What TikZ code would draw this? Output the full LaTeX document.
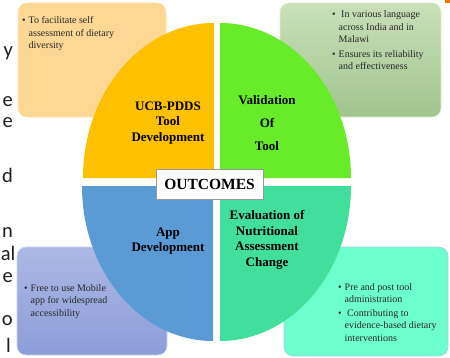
\documentclass[tikz,border=0pt]{standalone}
\usepackage{fontspec}
\setmainfont{Liberation Serif}
\newfontfamily\slidefont{Carlito}
\usepackage{tikz}
\definecolor{ucbyellow}{RGB}{255,192,0}
\definecolor{valgreen}{RGB}{104,236,42}
\definecolor{appblue}{RGB}{91,155,213}
\definecolor{evalteal}{RGB}{66,222,156}
\definecolor{ucbnote}{RGB}{253,216,148}
\definecolor{valnotetop}{RGB}{202,224,184}
\definecolor{valnotebot}{RGB}{160,197,142}
\definecolor{appnotetop}{RGB}{172,184,228}
\definecolor{appnotebot}{RGB}{140,158,217}
\definecolor{evalnote}{RGB}{110,255,206}
\definecolor{slidegray}{RGB}{30,30,30}
\newcommand{\notelist}[1]{\begin{tabular}[t]{@{}l@{\hspace{3pt}}l@{}}#1\end{tabular}}

\begin{document}
\begin{tikzpicture}[x=1pt,y=1pt,
notebox/.style={rounded corners=9pt, line width=0.6pt},
note/.style={anchor=base west, inner sep=0pt, text=black!85, font=\fontsize{10}{12.5}\selectfont},
phase/.style={align=center, inner sep=0pt, font=\bfseries\fontsize{13}{15.5}\selectfont},
slidetext/.style={anchor=base east, inner sep=0pt, text=slidegray, font=\slidefont\fontsize{20.5}{22}\selectfont}]
\useasboundingbox (0,0) rectangle (450,357);
\clip (0,0) rectangle (450,357);

%text boxes behind the quarters
\draw[notebox, fill=ucbnote, draw=ucbnote!70!white] (18,240) rectangle (166,354);
\draw[notebox, top color=valnotetop, bottom color=valnotebot, draw=valnotetop!60!white] (280,240) rectangle (441,354);
\draw[notebox, top color=appnotetop, bottom color=appnotebot, draw=appnotetop!60!white] (17,2) rectangle (167,110);
\draw[notebox, fill=evalnote, draw=appblue!50!white] (284,1) rectangle (448,110);

%the four quarters of the oval
\foreach \cx/\cy/\sa/\ea/\col in {214/179/90/180/ucbyellow, 220/179/0/90/valgreen,
	213/171/180/270/appblue, 220/171/270/360/evalteal}{
	\fill[\col] (\cx,\cy) -- ++(\sa:131 and 155) arc[start angle=\sa, end angle=\ea, x radius=131, y radius=155] -- cycle;
}

%labels of the quarters
\node[phase] (ucb) at (168,234) {UCB-PDDS\\Tool\\Development};
\node[phase, font=\bfseries\fontsize{13}{23}\selectfont] (val) at (267,234) {Validation\\Of\\Tool};
\node[phase] (app) at (168,116) {App\\Development};
\node[phase] (eval) at (267,117) {Evaluation of\\Nutritional\\Assessment\\Change};

\node[draw=black!40, line width=0.8pt, fill=white, minimum width=107pt, minimum height=30pt,
	font=\bfseries\fontsize{15.5}{18}\selectfont] (outcomes) at (209.5,173) {OUTCOMES};

%bullet points
\node[note] (ucbnote) at (22,333) {\notelist{\textbullet & To facilitate self\\ & assessment of dietary\\ & diversity}};
\node[note] (valnote) at (332,339) {\notelist{\textbullet & \hspace{2.5pt}In various language\\ & across India and in\\ & Malawi\\[2pt]
	\textbullet & Ensures its reliability\\ & and effectiveness}};
\node[note] (appnote) at (24,66) {\notelist{\textbullet & Free to use Mobile\\ & app for widespread\\ & accessibility}};
\node[note] (evalnote) at (338,67) {\notelist{\textbullet & Pre and post tool\\ & administration\\[1pt]
	\textbullet & \hspace{2.5pt}Contributing to\\ & evidence-based dietary\\ & interventions}};

%ends of the slide lines on the left
\foreach \ch/\xx/\yy in {y/13/300, e/13/251, e/13/230, d/13/175, n/13/120, al/15.5/97, e/13/75, o/13/32, l/11/5}{
	\node[slidetext] (cut\yy) at (\xx,\yy) {\ch};
}

%corner mark
\fill[orange!90!red] (445,354) rectangle (450,357);

\end{tikzpicture}
\end{document}
